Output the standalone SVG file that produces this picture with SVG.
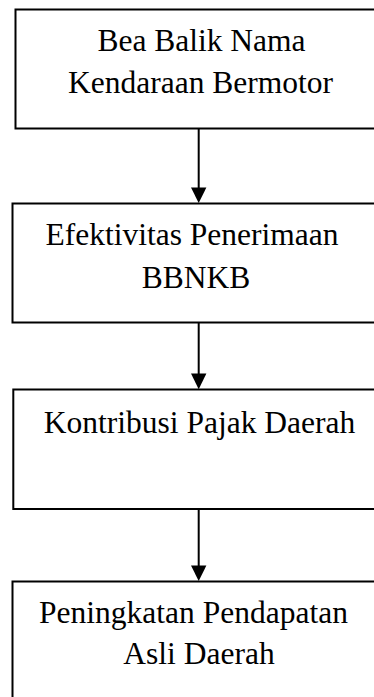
<svg xmlns="http://www.w3.org/2000/svg" width="374" height="697" viewBox="0 0 374 697">
<style>
.box{fill:#fff;stroke:#000;stroke-width:2}
.lbl{font-family:"Liberation Serif","Times New Roman",serif;font-size:31.5px;fill:#000;text-anchor:middle}
.edge{stroke:#000;stroke-width:2;fill:none}
.head{fill:#000}
</style>
<rect width="374" height="697" fill="#fff"/>
<g id="n1"><rect class="box" x="15.5" y="9.5" width="400" height="119"/>
<text class="lbl" x="201.5" y="50.5">Bea Balik Nama</text>
<text class="lbl" x="200.5" y="92.5">Kendaraan Bermotor</text></g>
<g id="n2"><rect class="box" x="12.5" y="203.5" width="400" height="119"/>
<text class="lbl" x="192" y="245">Efektivitas Penerimaan</text>
<text class="lbl" x="196" y="287.5">BBNKB</text></g>
<g id="n3"><rect class="box" x="13.3" y="389.5" width="400" height="119.5"/>
<text class="lbl" x="199.5" y="432.5">Kontribusi Pajak Daerah</text></g>
<g id="n4"><rect class="box" x="12.5" y="581.5" width="400" height="140"/>
<text class="lbl" x="193.5" y="623">Peningkatan Pendapatan</text>
<text class="lbl" x="199" y="664">Asli Daerah</text></g>
<g id="edges">
<line class="edge" x1="198.7" y1="128.5" x2="198.7" y2="189"/>
<polygon class="head" points="191,187.5 206.4,187.5 198.7,203"/>
<line class="edge" x1="198.7" y1="322.5" x2="198.7" y2="375"/>
<polygon class="head" points="191,373.5 206.4,373.5 198.7,389.3"/>
<line class="edge" x1="198.7" y1="509" x2="198.7" y2="567"/>
<polygon class="head" points="191,565.5 206.4,565.5 198.7,581"/>
</g>
</svg>
